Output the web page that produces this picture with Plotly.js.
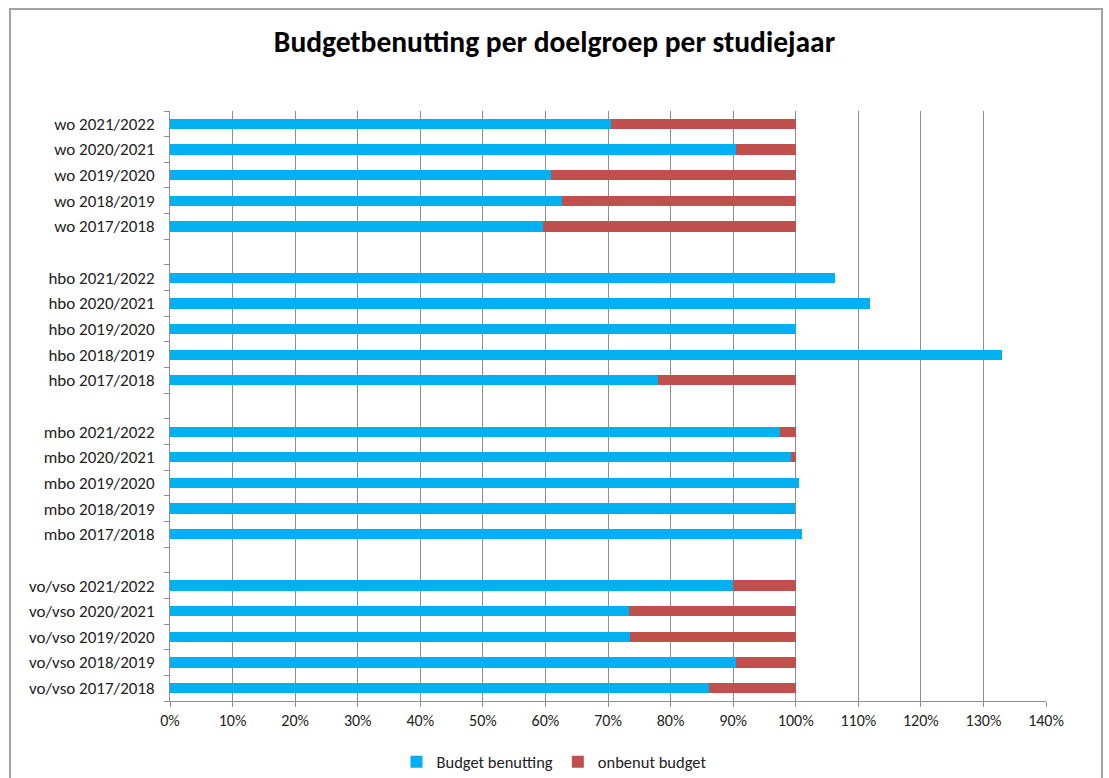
<!DOCTYPE html>
<html>
<head>
<meta charset="utf-8">
<script src="https://cdn.plot.ly/plotly-3.0.1.min.js"></script>
<style>
html,body{margin:0;padding:0;background:#fff;}
#wrap{position:relative;width:1109px;height:778px;overflow:hidden;}
#chart{position:absolute;left:0;top:0;width:1109px;height:778px;}
#frame{position:absolute;left:9px;top:8px;width:1090px;height:800px;border:2px solid #a4a4a4;pointer-events:none;}
</style>
</head>
<body>
<div id="wrap"><div id="chart"></div><div id="frame"></div></div>
<script>
// categories, bottom to top; blank entries are the gaps between groups
const categories = [
  "vo/vso 2017/2018","vo/vso 2018/2019","vo/vso 2019/2020","vo/vso 2020/2021","vo/vso 2021/2022",
  " ",
  "mbo 2017/2018","mbo 2018/2019","mbo 2019/2020","mbo 2020/2021","mbo 2021/2022",
  "  ",
  "hbo 2017/2018","hbo 2018/2019","hbo 2019/2020","hbo 2020/2021","hbo 2021/2022",
  "   ",
  "wo 2017/2018","wo 2018/2019","wo 2019/2020","wo 2020/2021","wo 2021/2022"
];
// Budget benutting (fraction)
const benutting = [
  0.861,0.904,0.735,0.734,0.899,
  null,
  1.010,0.999,1.005,0.993,0.975,
  null,
  0.780,1.330,1.000,1.118,1.063,
  null,
  0.596,0.626,0.609,0.904,0.705
];
// onbenut budget (fraction)
const onbenut = [
  0.139,0.096,0.265,0.266,0.101,
  null,
  0,0,0,0.007,0.025,
  null,
  0.220,0,0,0,0,
  null,
  0.404,0.374,0.391,0.096,0.295
];
const xTickVals = [0,0.1,0.2,0.3,0.4,0.5,0.6,0.7,0.8,0.9,1.0,1.1,1.2,1.3,1.4];
const xTickText = ["0%","10%","20%","30%","40%","50%","60%","70%","80%","90%","100%","110%","120%","130%","140%"];
const seriesNames = ["Budget benutting","onbenut budget"];

const FONT = "Carlito, Calibri, 'Liberation Sans Narrow', 'Liberation Sans', sans-serif";

const traces = [
  {type:"bar", orientation:"h", name:seriesNames[0], y:categories, x:benutting,
   marker:{color:"#00B0F0"}, hoverinfo:"none"},
  {type:"bar", orientation:"h", name:seriesNames[1], y:categories, x:onbenut,
   marker:{color:"#C0504D"}, hoverinfo:"none"}
];

const layout = {
  width:1109, height:778,
  paper_bgcolor:"#fff", plot_bgcolor:"#fff",
  margin:{l:170, r:63, t:111, b:77},
  barmode:"stack",
  bargap:0.6,
  showlegend:true,
  title:{text:"<b>Budgetbenutting per doelgroep per studiejaar</b>", x:0.5, xanchor:"center",
         y:1-42/778, yanchor:"middle", yref:"container",
         font:{family:FONT, size:29.5, color:"#000"}},
  font:{family:FONT, color:"#222"},
  xaxis:{range:[0,1.4], tickvals:xTickVals, ticktext:xTickText,
         showgrid:true, gridcolor:"#8e8e8e", gridwidth:1,
         showline:true, linecolor:"#8e8e8e", linewidth:1,
         ticks:"outside", ticklen:5, tickcolor:"#8e8e8e",
         zeroline:false, fixedrange:true, automargin:false,
         tickfont:{family:FONT, size:16, color:"#222"}},
  yaxis:{type:"category", categoryorder:"array", categoryarray:categories,
         range:[-0.5, categories.length-0.5],
         showgrid:false, showline:true, linecolor:"#8e8e8e", linewidth:1,
         ticks:"outside", ticklen:5, tickcolor:"#8e8e8e", tickson:"boundaries",
         ticklabelstandoff:11, fixedrange:true, automargin:false,
         tickfont:{family:FONT, size:17, color:"#222"}},
  legend:{orientation:"h", x:(554-170)/876, xanchor:"center",
          yref:"container", y:(778-762)/778, yanchor:"middle",
          font:{family:FONT, size:16.5, color:"#222"}, traceorder:"normal",
          itemwidth:30, bgcolor:"rgba(0,0,0,0)"}
};

Plotly.newPlot("chart", traces, layout, {displayModeBar:false, staticPlot:true});
</script>
</body>
</html>
